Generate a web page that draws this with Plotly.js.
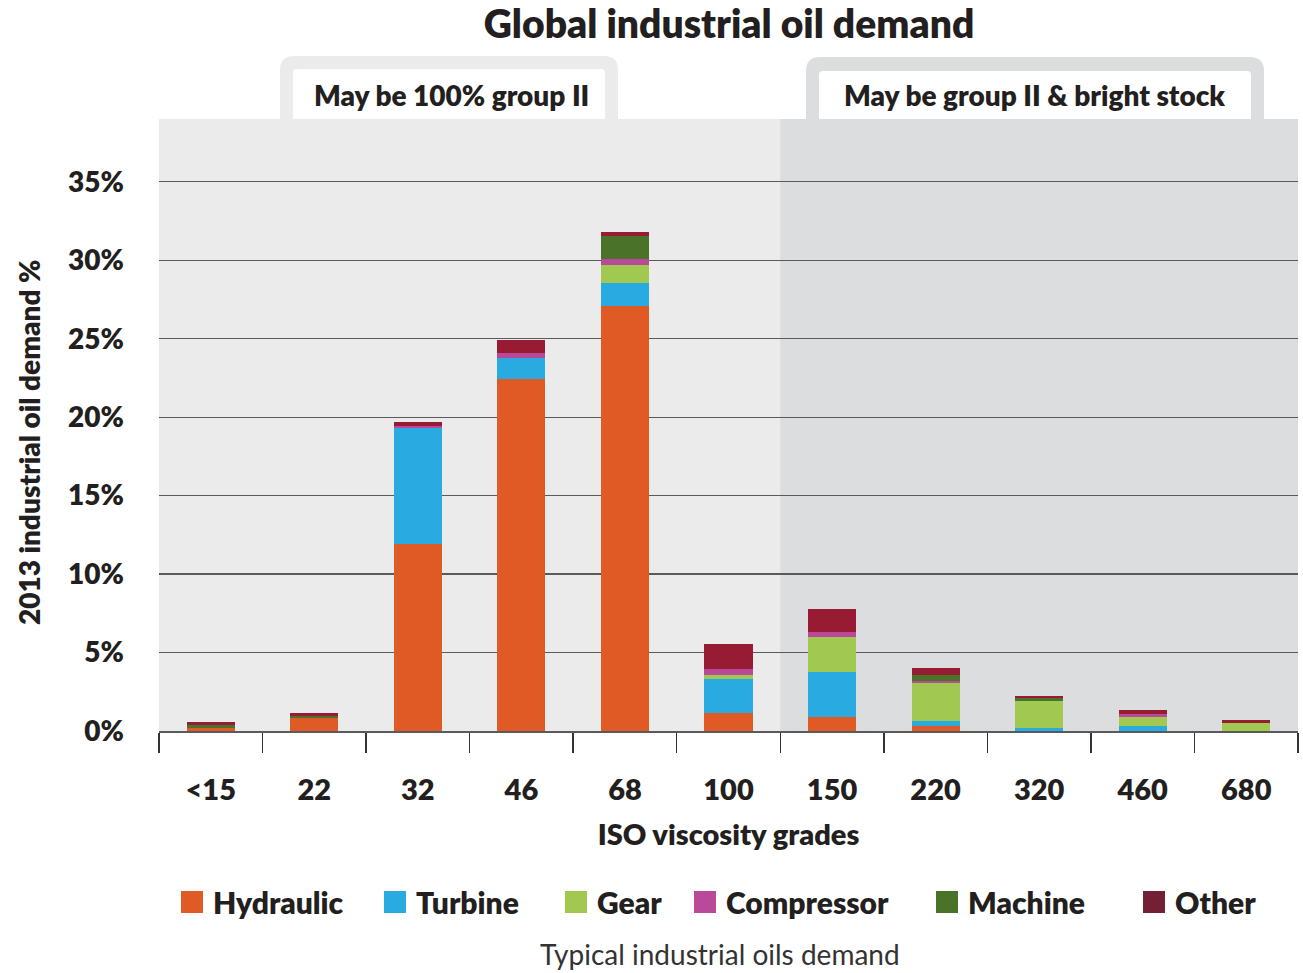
<!DOCTYPE html>
<html><head><meta charset="utf-8">
<script src="https://cdn.plot.ly/plotly-3.0.1.min.js"></script>
<style>html,body{margin:0;padding:0;background:#fff}</style>
</head><body><div id="chart" style="width:1303px;height:973px"></div>
<script>
// ---- data (2013 industrial oil demand, %) ----
const grades = ["<15","22","32","46","68","100","150","220","320","460","680"];
const hydraulic  = [0.22, 0.83, 11.9, 22.4, 27.1, 1.13, 0.89, 0.32, 0,    0,    0];
const turbine    = [0,    0,    7.4,  1.34, 1.47, 2.19, 2.87, 0.32, 0.16, 0.35, 0];
const gear       = [0,    0,    0,    0,    1.15, 0.25, 2.23, 2.42, 1.78, 0.57, 0.48];
const compressor = [0,    0,    0.13, 0.38, 0.36, 0.38, 0.32, 0.13, 0,    0.19, 0];
const machine    = [0.19, 0.13, 0,    0,    1.49, 0,    0,    0.38, 0.15, 0,    0.06];
const other      = [0.19, 0.19, 0.25, 0.77, 0.25, 1.59, 1.47, 0.45, 0.17, 0.25, 0.19];
const seriesNames = ["Hydraulic","Turbine","Gear","Compressor","Machine","Other"];
const yTickVals = [0,5,10,15,20,25,30,35];
const yTickText = ["0%","5%","10%","15%","20%","25%","30%","35%"];
const tabLeftText = "May be 100% group II";
const tabRightText = "May be group II & bright stock";

// ---- style ----
const colors = ["#E05A26","#29ABE2","#A1C850","#B94A9A","#4A7229","#961B33"];
const legendColors = ["#E05A26","#29ABE2","#A1C850","#B94A9A","#4A7229","#731F35"];
const FONT = "Lato, 'Open Sans', sans-serif";
const TXT = "#231F20";
const HW = 800; // heavy weight
const W=1303, H=973, L=159, R=1298, T=119, B=731;
const px = x => (x-L)/(R-L);
const py = y => (B-y)/(B-T);

const values = [hydraulic, turbine, gear, compressor, machine, other];
const traces = seriesNames.map((n,i)=>({
  type:'bar', name:n, x:grades, y:values[i],
  marker:{color:colors[i], line:{width:0}},
  hoverinfo:'x+y+name', showlegend:false
}));

function tabPath(x0,x1,y0,y1,r){
  return `M${px(x0)},${py(y1)} L${px(x0)},${py(y0+r)} Q${px(x0)},${py(y0)} ${px(x0+r)},${py(y0)} `+
         `L${px(x1-r)},${py(y0)} Q${px(x1)},${py(y0)} ${px(x1)},${py(y0+r)} L${px(x1)},${py(y1)} Z`;
}

const shapes = [
  {type:'rect', xref:'x', yref:'paper', x0:5.5, x1:10.5, y0:0, y1:1, fillcolor:'#DCDDDF', line:{width:0}, layer:'below'},
  {type:'path', xref:'paper', yref:'paper', path:tabPath(280,618,56,121,14), fillcolor:'#EBEBEB', line:{width:0}, layer:'below'},
  {type:'path', xref:'paper', yref:'paper', path:tabPath(293,605,69,119,4), fillcolor:'#FFFFFF', line:{width:0}, layer:'below'},
  {type:'path', xref:'paper', yref:'paper', path:tabPath(806,1264,57,121,14), fillcolor:'#DCDDDF', line:{width:0}, layer:'below'},
  {type:'path', xref:'paper', yref:'paper', path:tabPath(819,1251,71,119,4), fillcolor:'#FFFFFF', line:{width:0}, layer:'below'}
];

const annotations = [
  {xref:'paper', yref:'paper', x:px(451), y:py(95), text:tabLeftText, showarrow:false,
   font:{family:FONT, size:28, color:TXT, weight:HW}, xanchor:'center', yanchor:'middle'},
  {xref:'paper', yref:'paper', x:px(1034), y:py(95), text:tabRightText, showarrow:false,
   font:{family:FONT, size:28, color:TXT, weight:HW}, xanchor:'center', yanchor:'middle'},
  {xref:'paper', yref:'paper', x:px(720), y:py(954), text:"Typical industrial oils demand", showarrow:false,
   font:{family:FONT, size:28, color:'#333333', weight:400}, xanchor:'center', yanchor:'middle'},
  {xref:'paper', yref:'paper', x:px(29), y:py(443), text:"2013 industrial oil demand %", showarrow:false, textangle:-90,
   font:{family:FONT, size:28, color:TXT, weight:HW}, xanchor:'center', yanchor:'middle'}
];

// manual legend
const legX = [181, 384, 565, 694, 936, 1143];
seriesNames.forEach((n,i)=>{
  shapes.push({type:'rect', xref:'paper', yref:'paper', x0:px(legX[i]), x1:px(legX[i]+22),
    y0:py(913), y1:py(891), fillcolor:legendColors[i], line:{width:0}});
  annotations.push({xref:'paper', yref:'paper', x:px(legX[i]+30), y:py(902), text:n, showarrow:false,
    xanchor:'left', yanchor:'middle', font:{family:FONT, size:30, color:TXT, weight:HW}});
});

const layout = {
  width:W, height:H,
  margin:{l:L, r:W-R, t:T, b:H-B, pad:0},
  paper_bgcolor:'#FFFFFF', plot_bgcolor:'#EBEBEB',
  barmode:'stack', bargap:0.535,
  title:{text:"Global industrial oil demand", x:729/W, xanchor:'center', y:1-24/H, yanchor:'middle',
    font:{family:FONT, size:39, color:TXT, weight:HW}},
  xaxis:{type:'category', tickson:'boundaries', ticks:'outside', ticklen:20, tickwidth:1.5, tickcolor:'#333',
    showline:true, linecolor:'#5a5a5a', linewidth:2, showgrid:false, range:[-0.5,10.5],
    ticklabelstandoff:32,
    tickfont:{family:FONT, size:29, color:TXT, weight:HW},
    title:{text:"ISO viscosity grades", standoff:20, font:{family:FONT, size:29, color:TXT, weight:HW}},
    automargin:false, fixedrange:true},
  yaxis:{range:[0,39], tickvals:yTickVals, ticktext:yTickText, showgrid:true, gridcolor:'#5a5a5a', gridwidth:1.3,
    zeroline:false, showline:false, ticks:'', ticklabelstandoff:34,
    tickfont:{family:FONT, size:28, color:TXT, weight:HW},
    automargin:false, fixedrange:true},
  shapes, annotations, showlegend:false
};

Plotly.newPlot('chart', traces, layout, {displayModeBar:false, staticPlot:true});
</script></body></html>
